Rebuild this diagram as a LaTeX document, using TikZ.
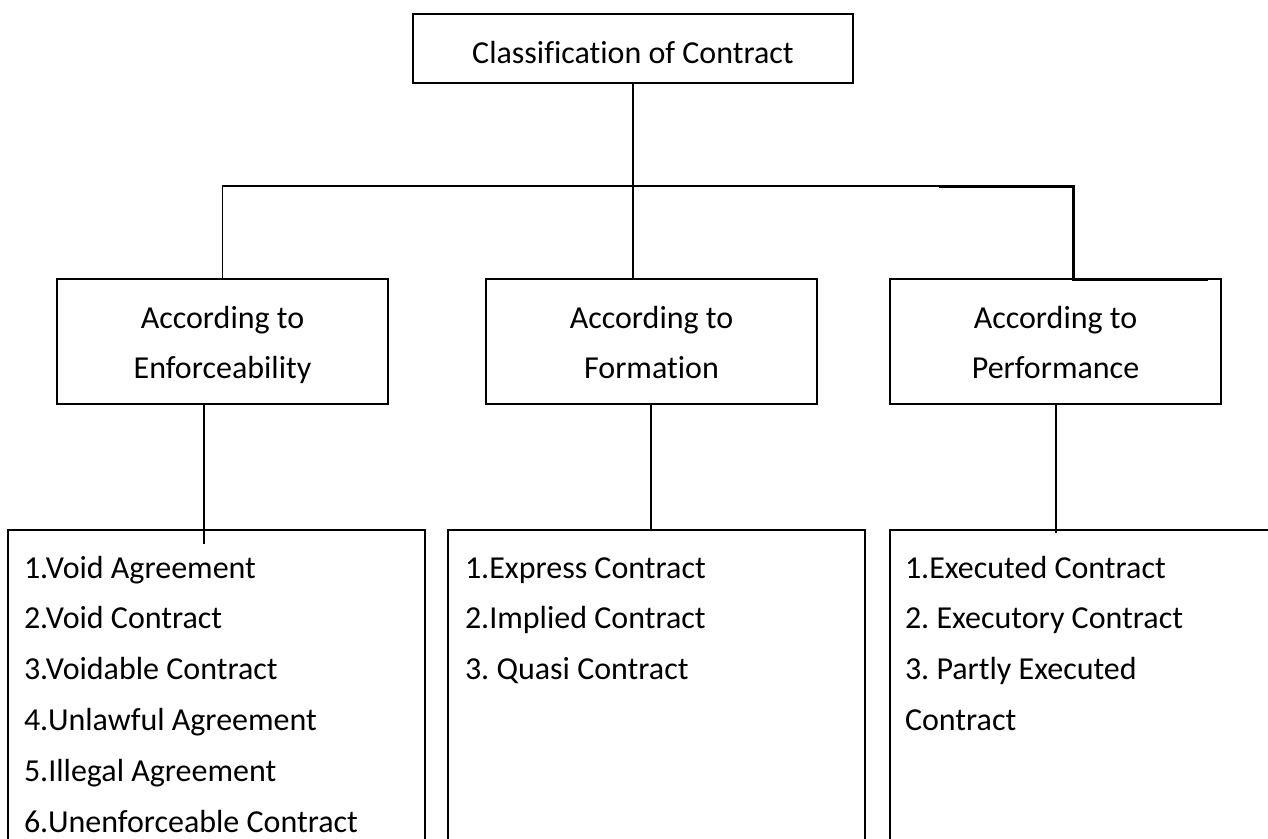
\documentclass[tikz,border=0pt]{standalone}
\usepackage{fontspec}
\setmainfont{Carlito}[Ligatures=NoCommon]
\frenchspacing
\begin{document}
\begin{tikzpicture}[x=1pt,y=-1pt,
  box/.style 2 args={draw=black, line width=1.8pt, inner sep=0pt, outer sep=0pt,
    minimum width=#1, minimum height=#2},
  lbl/.style={font=\fontsize{32}{38}\selectfont, inner sep=0pt, outer sep=0pt},
  conn/.style={draw=black, line width=1.8pt},
  heavy/.style={draw=black, line width=3pt}]
\useasboundingbox (0,0) rectangle (1268,838);
\clip (0,0) rectangle (1268,838);

% root
\node[box={440pt}{69pt}] (top) at (633,48.5) {};
\node[lbl, anchor=base] (toptxt) at (633,63) {Classification of Contract};

% second level
\node[box={331pt}{125pt}] (enf)  at (222.5,341.5) {};
\node[box={331pt}{125pt}] (form) at (651.5,341.5) {};
\node[box={331pt}{125pt}] (perf) at (1055.5,341.5) {};
\foreach \b/\w in {enf/Enforceability, form/Formation, perf/Performance}{
  \node[lbl, anchor=base] (\b-a) at (\b.center |- 0,328) {According to};
  \node[lbl, anchor=base] (\b-b) at (\b.center |- 0,378) {\w};
}

% third level (lists)
\node[box={417pt}{370pt}] (l1) at (216.5,715) {};
\node[box={417pt}{370pt}] (l2) at (656.5,715) {};
\node[box={400pt}{370pt}] (l3) at (1090,715) {};

\foreach \t [count=\i] in {1.Void Agreement, 2.Void Contract, 3.Voidable Contract,
    4.Unlawful Agreement, 5.Illegal Agreement, 6.Unenforceable Contract}
  \node[lbl, anchor=base west] (l1-\i) at (24,{578+50.8*(\i-1)}) {\t};
\foreach \t [count=\i] in {1.Express Contract, 2.Implied Contract, 3. Quasi Contract}
  \node[lbl, anchor=base west] (l2-\i) at (465,{578+50.8*(\i-1)}) {\t};
\foreach \t [count=\i] in {1.Executed Contract, 2. Executory Contract, 3. Partly Executed, Contract}
  \node[lbl, anchor=base west] (l3-\i) at (905,{578+50.8*(\i-1)}) {\t};

% connectors
\coordinate (busR) at (1073,186);
\coordinate (jog)  at (1073,279);
\coordinate (stub) at (1208,279);
\draw[conn] (top.south) -- (top.south |- form.north);
\draw[conn] (enf.north) |- (busR);
\draw[heavy] ([xshift=-134pt]busR) -- (busR) -- (jog) -- (stub);
\draw[conn] ([xshift=-18.5pt]enf.south) -- ([xshift=-18.5pt,yshift=-14pt]enf.south |- l1.north);
\draw[conn] ([xshift=-0.5pt]form.south) -- ([xshift=-0.5pt]form.south |- l2.north);
\draw[conn] ([xshift=0.5pt]perf.south) -- ([xshift=0.5pt,yshift=-3pt]perf.south |- l3.north);
\end{tikzpicture}
\end{document}
